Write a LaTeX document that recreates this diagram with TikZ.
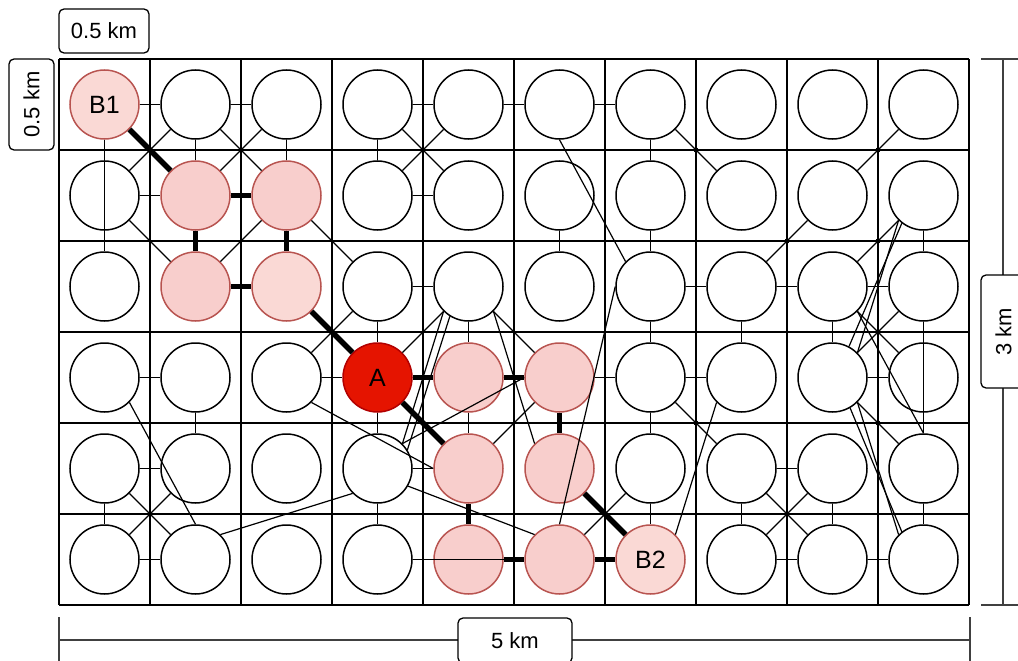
\documentclass[tikz,border=0pt]{standalone}
\usepackage{fontspec}
\setmainfont{Liberation Sans}
\definecolor{pinkfill}{HTML}{F8CECC}
\definecolor{pinklight}{HTML}{FAD9D5}
\definecolor{pinkline}{HTML}{B85450}
\definecolor{redfill}{HTML}{E51400}
\definecolor{redline}{HTML}{B20000}
\begin{document}
\begin{tikzpicture}[x=1pt,y=-1pt,
  gridline/.style={line width=1.5pt,black},
  stn/.style={circle,draw=black,line width=1.5pt,fill=white,minimum size=69pt,inner sep=0pt,font=\fontsize{25}{25}\selectfont},
  pathn/.style={stn,draw=pinkline,fill=pinkfill},
  pathl/.style={stn,draw=pinkline,fill=pinklight},
  srcn/.style={stn,draw=redline,fill=redfill},
  link/.style={line width=1.2pt,black},
  route/.style={line width=5.5pt,black},
  crossdot/.style={circle,fill=black,inner sep=0pt,minimum size=5pt},
  dimline/.style={line width=1.3pt,black!75},
  lab/.style={draw=black,line width=1.3pt,fill=white,rounded corners=5pt,font=\fontsize{22}{22}\selectfont,inner sep=0pt}
]
\useasboundingbox (0,0) rectangle (1018,661);
% grid
\foreach \i in {0,...,10} \draw[gridline] ({59+91*\i},59) -- ({59+91*\i},605);
\foreach \j in {0,...,6} \draw[gridline] (59,{59+91*\j}) -- (969,{59+91*\j});
% white nodes
\foreach \r/\cl in {0/{1,2,3,4,5,6,7,8,9},1/{0,3,4,5,6,7,8,9},2/{0,3,4,5,6,7,8,9},3/{0,1,2,6,7,8,9},4/{0,1,2,3,6,7,8,9},5/{0,1,2,3,7,8,9}}{
  \foreach \c in \cl {\node[stn] (n\c\r) at ({104.5+91*\c},{104.5+91*\r}) {};}
}
% route nodes
\node[pathl] (n00) at (104.5,104.5) {B1};
\node[pathn] (n11) at (195.5,195.5) {};
\node[pathn] (n21) at (286.5,195.5) {};
\node[pathn] (n12) at (195.5,286.5) {};
\node[pathl] (n22) at (286.5,286.5) {};
\node[srcn] (n33) at (377.5,377.5) {A};
\node[pathn] (n43) at (468.5,377.5) {};
\node[pathn] (n53) at (559.5,377.5) {};
\node[pathn] (n44) at (468.5,468.5) {};
\node[pathn] (n54) at (559.5,468.5) {};
\node[pathn] (n45) at (468.5,559.5) {};
\node[pathn] (n55) at (559.5,559.5) {};
\node[pathl] (n65) at (650.5,559.5) {B2};
% thin links between centres
\foreach \a/\b in {n00/n10,n10/n20,n30/n40,n40/n50,n50/n60,n01/n11,n31/n41,n32/n42,n62/n72,n72/n82,n82/n92,
  n03/n13,n23/n33,n53/n63,n63/n73,n83/n93,n04/n14,n34/n44,n74/n84,n05/n15,n75/n85,n85/n95,
  n10/n11,n20/n21,n30/n31,n60/n61,n51/n52,n61/n62,n91/n92,n32/n33,n42/n43,n62/n63,n72/n73,n82/n83,
  n13/n14,n33/n34,n43/n44,n63/n64,n04/n05,n34/n35,n64/n65,n74/n75,n84/n85,n94/n95,
  n10/n01,n10/n21,n20/n11,n30/n41,n40/n31,n60/n71,n90/n81,n01/n12,n21/n12,n21/n32,n81/n72,n91/n82,
  n23/n32,n33/n42,n42/n53,n44/n53,n82/n93,n92/n83,n83/n94,n63/n74,n04/n15,n14/n05,n74/n85,n84/n75,n55/n64,
  n00/n02,n92/n94,n35/n55}
  \draw[link] (\a) -- (\b);
% thin links between fixed points
\draw[link] (n50.south) -- (n62.135);
\draw[link] (n62.west) -- (n55.north);
\draw[link] (n91.225) -- (n83.45);
\draw[link] (n91.232) -- (n83.62);
\draw[link] (n82.-45) -- (n94.north);
\draw[link] (n83.-45) -- (n95.135);
\draw[link] (n83.-60) -- (n95.128);
\draw[link] (n42.225) -- (n34.45);
\draw[link] (n42.238) -- (n34.32);
\draw[link] (n42.-45) -- (n54.135);
\draw[link] (n23.-45) -- (n44.west);
\draw[link] (n34.45) -- (n53.west);
\draw[link] (n15.45) -- (n34.225);
\draw[link] (n34.-30) -- (n55.135);
\draw[link] (n03.-45) -- (n15.north);
\draw[link] (n73.225) -- (n65.45);
% route
\foreach \a/\b in {n00/n11,n11/n21,n11/n12,n21/n22,n12/n22,n22/n33,n33/n43,n43/n53,n33/n44,n53/n54,n44/n45,n45/n55,n55/n65,n54/n65}
  \draw[route] (\a) -- (\b);
% crossing dots
\foreach \p/\q in {241/150,423/150,696/150,878/150,787/241,878/241,878/332,878/423,696/423,150/514,787/514}
  \node[crossdot] at (\p,\q) {};
% dimensions
\coordinate (rt) at (1003,59);
\coordinate (rb) at (1003,605);
\coordinate (bl) at (59,640);
\coordinate (br) at (970,640);
\draw[dimline] (rt) -- (rb);
\draw[dimline] (981,59) -- (1026,59);
\draw[dimline] (981,605) -- (1026,605);
\draw[dimline] (bl) -- (br);
\draw[dimline] (59,617) -- (59,663);
\draw[dimline] (970,617) -- (970,663);
\node[lab,minimum width=90pt,minimum height=44pt] (ktop) at (104,31) {0.5 km};
\node[lab,minimum width=91pt,minimum height=45pt,rotate=90] (kleft) at (31.5,104.5) {0.5 km};
\node[lab,minimum width=113pt,minimum height=45pt,rotate=90] (kright) at (1003.5,331.5) {3 km};
\node[lab,minimum width=114pt,minimum height=45pt] (kbot) at (515,640.5) {5 km};
\end{tikzpicture}
\end{document}
